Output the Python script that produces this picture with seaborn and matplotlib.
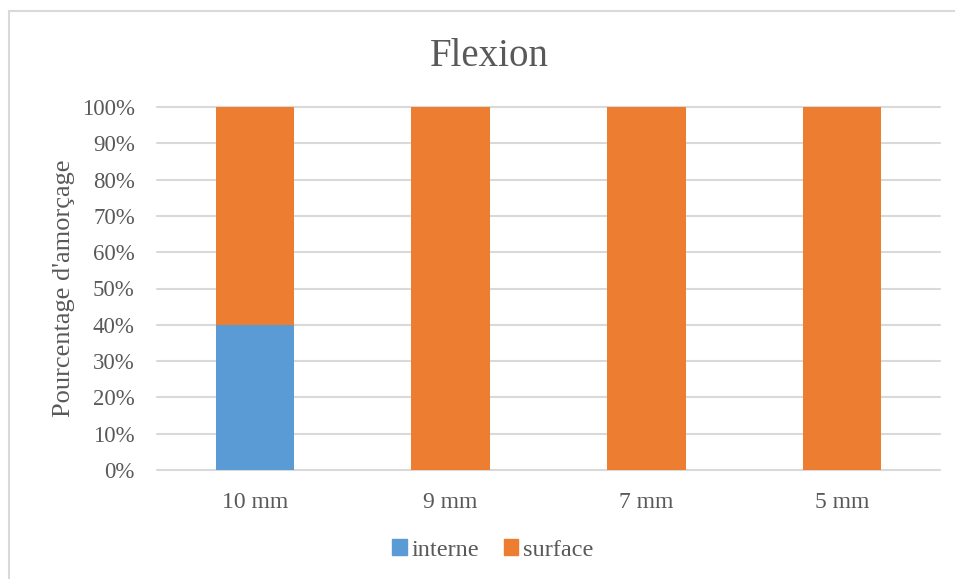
import matplotlib.pyplot as plt
import numpy as np
import pandas as pd
import seaborn as sns
from matplotlib.patches import Patch, Rectangle

# Data
categories = ['10 mm', '9 mm', '7 mm', '5 mm']
interne = [40, 0, 0, 0]
surface = [60, 100, 100, 100]
series_names = ['interne', 'surface']
colors = ['#5B9BD5', '#ED7D31']
yticks = list(range(0, 101, 10))

sns.set_style("white")
plt.rcParams['font.family'] = ['Liberation Serif', 'DejaVu Serif']
text_color = '#595959'
grid_color = '#D9D9D9'

df = pd.DataFrame({'cat': categories, 'interne': interne,
                   'total': np.array(interne) + np.array(surface)})

fig = plt.figure(figsize=(9.55, 5.79), dpi=100)
ax = fig.add_axes([157 / 955, 109 / 579, 783 / 955, 363 / 579])

# Stacked bars: total (orange) below, interne (blue) on top of it
sns.barplot(data=df, x='cat', y='total', color=colors[1], width=0.4,
            saturation=1, linewidth=0, ax=ax, zorder=3)
sns.barplot(data=df, x='cat', y='interne', color=colors[0], width=0.4,
            saturation=1, linewidth=0, ax=ax, zorder=4)

ax.set_ylim(0, 100)
ax.set_xlim(-0.5, 3.5)
ax.set_yticks(yticks)
ax.set_yticklabels([f'{v}%' for v in yticks])
for y in yticks:
    ax.axhline(y, color=grid_color, lw=1.5, zorder=1, clip_on=False)

ax.tick_params(axis='both', length=0, labelsize=16.5, colors=text_color)
ax.tick_params(axis='x', labelsize=17, pad=16)
ax.tick_params(axis='y', pad=16)
ax.set_xlabel('')
ax.set_ylabel("Pourcentage d'amorçage", fontsize=19, color=text_color)
ax.yaxis.set_label_coords(-0.105, 0.5)
for s in ax.spines.values():
    s.set_visible(False)

fig.text(489 / 955, 1 - 56 / 579, 'Flexion', ha='center', va='center',
         fontsize=28, color=text_color)

handles = [Patch(color=c, label=n) for c, n in zip(colors, series_names)]
fig.legend(handles=handles, loc='center', bbox_to_anchor=(493 / 955, 1 - 550 / 579),
           ncol=2, frameon=False, fontsize=17.5, handlelength=0.6,
           handleheight=0.6, handletextpad=0.2, columnspacing=1.0,
           labelcolor=text_color)

# Chart border (cropped on right and bottom in the reference)
fig.patches.append(Rectangle((9 / 955, -0.1), 1.2, 1 - 11 / 579 + 0.1,
                             transform=fig.transFigure, fill=False,
                             edgecolor=grid_color, lw=1.5))

plt.savefig('out.png', dpi=100)
